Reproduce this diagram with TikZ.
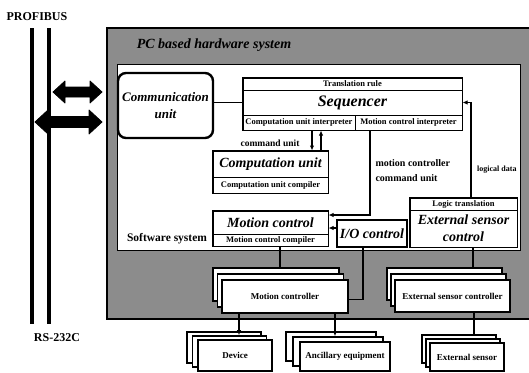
\documentclass[tikz,border=0pt]{standalone}
\usepackage{fontspec}
\setmainfont{Liberation Serif}
\usetikzlibrary{calc,arrows.meta}
\tikzset{
  cell/.style={draw, line width=1pt, fill=white, inner sep=0pt, anchor=center},
  thickbox/.style={draw, line width=1.8pt},
  stackbox/.style={draw, line width=1.6pt, fill=white, inner sep=0pt, anchor=center},
  bibig/.style={font=\bfseries\itshape\fontsize{14}{17}\selectfont},
  bsmall/.style={font=\bfseries\fontsize{8.5}{10}\selectfont},
  bmid/.style={font=\bfseries\fontsize{9}{11}\selectfont},
  blabel/.style={font=\bfseries\fontsize{10}{15}\selectfont},
  conn/.style={line width=1.1pt},
  arr/.style={line width=1.1pt, -{Latex[length=5pt,width=4.5pt]}},
  busline/.style={line width=4pt},
  bigarrow/.style={fill=black, draw=black, line width=0.8pt, line join=round},
}
\newcommand\mystack[8]{%
  \node[stackbox, minimum width=#4pt, minimum height=#5pt] (#1c) at (#2-2*#6, #3-2*#7) {};
  \node[stackbox, minimum width=#4pt, minimum height=#5pt] (#1b) at (#2-#6, #3-#7) {};
  \node[stackbox, bmid, minimum width=#4pt, minimum height=#5pt] (#1) at (#2, #3) {#8};
}
\begin{document}
\begin{tikzpicture}[x=1pt, y=-1pt]
\useasboundingbox (0,0) rectangle (529,372);
\fill[white] (0,0) rectangle (529,372);

% bus
\node[font=\bfseries\fontsize{12}{14}\selectfont] (profibus) at (37,17) {PROFIBUS};
\node[font=\bfseries\fontsize{12}{14}\selectfont] (rs) at (57,338) {RS-232C};
\draw[busline] (32,28) -- (32,324);
\draw[busline] (49,28) -- (49,324);

% double arrows
\draw[bigarrow] (53,92) -- (65,81) -- (65,87) -- (90,87) -- (90,81) -- (102,92) -- (90,103) -- (90,97) -- (65,97) -- (65,103) -- cycle;
\draw[bigarrow] (35,122) -- (48,110) -- (48,116.5) -- (89,116.5) -- (89,110) -- (102,122) -- (89,134) -- (89,127.5) -- (48,127.5) -- (48,134) -- cycle;

% hardware system (gray)
\fill[black!45] (107,28) rectangle (529,319);
\draw[line width=2pt] (529,28) -- (107,28) -- (107,319) -- (529,319);
\node[bibig] (pc) at (214,45) {PC based hardware system};

% software system (white)
\filldraw[fill=white, draw=black, line width=1pt] (117,64) rectangle (520,250);
\node[font=\bfseries\fontsize{11.5}{13}\selectfont] (sw) at (167,239) {Software system};

% communication unit
\node[draw, line width=2.4pt, rounded corners=8pt, minimum width=95pt, minimum height=65pt, inner sep=0pt, align=center, font=\bfseries\itshape\fontsize{13}{17}\selectfont] (comm) at (165.5,105.5) {Communication\\unit};

% sequencer
\node[cell, bsmall, minimum width=219pt, minimum height=12pt] (trans) at (352.5,84) {Translation rule};
\node[cell, font=\bfseries\itshape\fontsize{16}{18}\selectfont, minimum width=219pt, minimum height=25pt] (seqm) at (352.5,102.5) {Sequencer};
\node[cell, bsmall, minimum width=112pt, minimum height=15pt] (cui) at (299,122.5) {Computation unit interpreter};
\node[cell, bsmall, minimum width=107pt, minimum height=15pt] (mci) at (408.5,122.5) {Motion control interpreter};
\draw[thickbox] (trans.north west) rectangle (mci.south east);

% computation unit
\node[cell, bibig, minimum width=115pt, minimum height=26pt] (cu) at (270.5,164) {Computation unit};
\node[cell, bsmall, minimum width=115pt, minimum height=16pt] (cuc) at (270.5,185) {Computation unit compiler};
\draw[thickbox] (cu.north west) rectangle (cuc.south east);

% motion control
\node[cell, bibig, minimum width=115pt, minimum height=23pt] (mc) at (270.5,222.5) {Motion control};
\node[cell, bsmall, minimum width=115pt, minimum height=12pt] (mcc) at (270.5,240) {Motion control compiler};
\draw[thickbox] (mc.north west) rectangle (mcc.south east);

% I/O control
\node[cell, thickbox, bibig, minimum width=70pt, minimum height=27pt] (io) at (372,233.5) {I/O control};

% external sensor control
\node[cell, bsmall, minimum width=107pt, minimum height=12pt] (lt) at (463.5,204) {Logic translation};
\node[cell, bibig, align=center, minimum width=107pt, minimum height=37pt] (esc) at (463.5,228.5) {External sensor\\control};
\draw[thickbox] (lt.north west) rectangle (esc.south east);

% labels
\node[font=\bfseries\fontsize{9.5}{11}\selectfont] (cmdu) at (270,143) {command unit};
\node[blabel, anchor=west, align=left] (mccu) at (372,170.5) {motion controller\\command unit};
\node[font=\bfseries\fontsize{8}{10}\selectfont, anchor=west, inner sep=1pt] (ld) at (476,170) {logical data};

% controllers
\mystack{mctrl}{285}{296.5}{126}{33}{4.5}{6}{Motion controller}
\mystack{esctrl}{452.5}{296}{115}{32}{4}{6}{External sensor controller}
\mystack{dev}{235}{355.5}{74}{31}{5.5}{4}{Device}
\mystack{anc}{345}{356.5}{90}{29}{7}{5}{Ancillary equipment}
\mystack{exs}{467}{357}{74}{28}{4}{4}{External sensor}

% connectors
\draw[conn] (seqm.west -| comm.east) -- (seqm.west);
\draw[arr] ([xshift=7.5pt]lt.north) |- (seqm.east);
\draw[arr] ([xshift=13pt]cui.south) -- ([xshift=13pt]cui.south |- cu.north);
\draw[arr] ([xshift=22pt]cui.south |- cu.north) -- ([xshift=22pt]cui.south);
\draw[arr] ([xshift=-38.5pt]mci.south) |- ([yshift=7.5pt]mc.east);
\draw[arr] ([yshift=5.5pt]io.west) -- ([yshift=5.5pt]io.west -| mc.east);
\draw[conn] ([xshift=9.5pt]mcc.south) -- ([xshift=9.5pt]mcc.south |- mctrlc.north);
\draw[conn] ([xshift=-9pt]io.south) |- ([yshift=-3pt]mctrl.east);
\draw[conn] ([xshift=9.5pt]esc.south) -- ([xshift=9.5pt]esc.south |- esctrlc.north);
\draw[arr] ([xshift=-46pt]mctrl.south) -- ([xshift=-46pt]mctrl.south |- devb.north);
\draw[arr] ([xshift=-10pt]mctrl.south -| anc.north) -- ([xshift=-10pt]anc.north |- ancb.north);
\draw[conn] ([xshift=21.5pt]esctrl.south) -- ([xshift=21.5pt]esctrl.south |- exsc.north);
\end{tikzpicture}
\end{document}
